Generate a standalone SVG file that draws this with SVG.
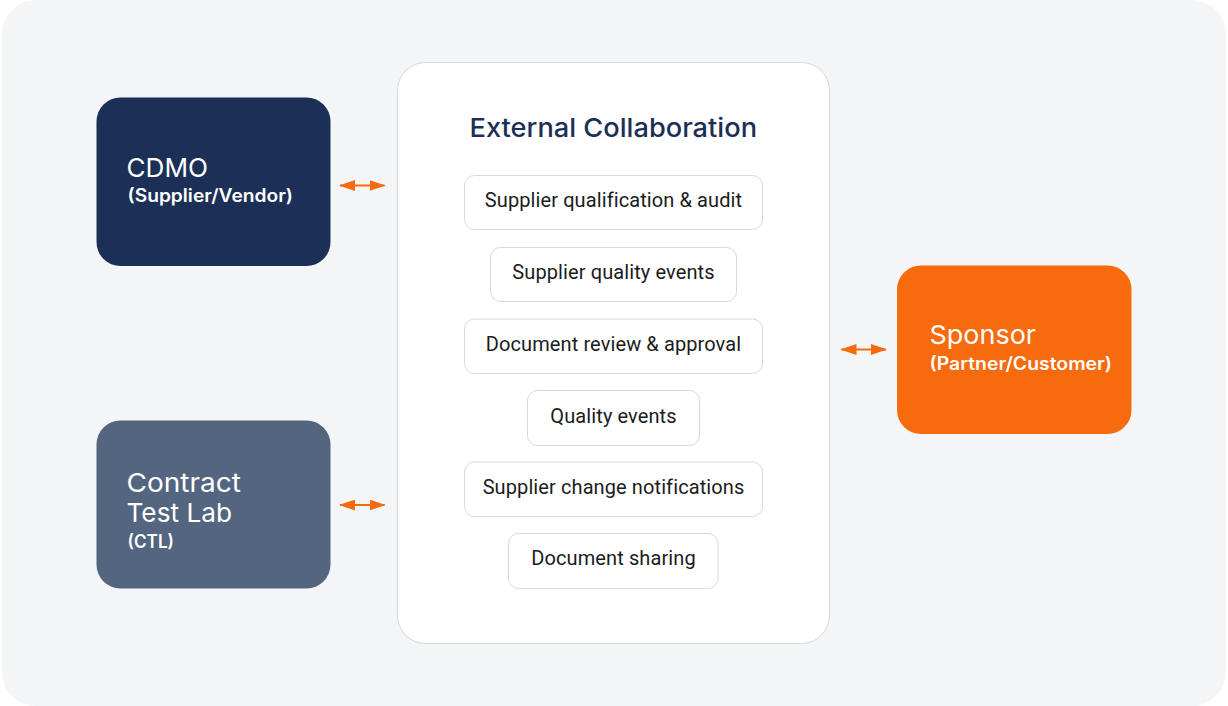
<svg xmlns="http://www.w3.org/2000/svg" width="1228" height="706" viewBox="0 0 1228 706">
<style>
.h{font-family:Inter,"Liberation Sans",sans-serif;font-weight:400;fill:#fff;font-size:26px}
.s{font-family:Inter,"Liberation Sans",sans-serif;font-weight:600;fill:#fff;font-size:18px}
.t{font-family:Inter,"Liberation Sans",sans-serif;font-weight:500;fill:#1c2f57;font-size:26px}
.i{font-family:Roboto,"Liberation Sans",sans-serif;font-size:20px;fill:#1a1c20;text-anchor:middle;letter-spacing:.1px}
.b{fill:#fff;stroke:#d5d8e0;stroke-width:1}
.c{stroke:#f76a0d;stroke-width:2;fill:none;marker-start:url(#a);marker-end:url(#a)}
</style>
<defs><marker id="a" viewBox="0 0 16 11" refX="15" refY="5.500" markerWidth="16" markerHeight="11" markerUnits="userSpaceOnUse" orient="auto-start-reverse"><path d="M0 0L16 5.500L0 11Z" fill="#f76a0d"/></marker></defs>
<rect x="2" y="0" width="1224" height="706" rx="34" fill="#f4f5f7"/>
<g id="connectors">
<path class="c" d="M340 185.500H384.500"/>
<path class="c" d="M340 505H384.500"/>
<path class="c" d="M841.500 349.500H886"/>
</g>
<g id="cdmo"><rect x="96.500" y="97.500" width="234" height="168.500" rx="24" fill="#1c2f57"/>
<text class="h" x="126.500" y="177" textLength="81.500" lengthAdjust="spacingAndGlyphs">CDMO</text>
<text class="s" x="127.500" y="202" textLength="165.500" lengthAdjust="spacingAndGlyphs">(Supplier/Vendor)</text></g>
<g id="ctl"><rect x="96.500" y="420.500" width="234" height="168" rx="24" fill="#54657f"/>
<text class="h" x="126.500" y="492" textLength="114.500" lengthAdjust="spacingAndGlyphs">Contract</text>
<text class="h" x="126.500" y="522" textLength="105.500" lengthAdjust="spacingAndGlyphs">Test Lab</text>
<text class="s" x="127.500" y="548" textLength="46.500" lengthAdjust="spacingAndGlyphs">(CTL)</text></g>
<g id="sponsor"><rect x="897" y="265.500" width="234.500" height="168.500" rx="24" fill="#f76a0d"/>
<text class="h" x="929.500" y="344" textLength="106.500" lengthAdjust="spacingAndGlyphs">Sponsor</text>
<text class="s" x="929.500" y="370" textLength="182.500" lengthAdjust="spacingAndGlyphs">(Partner/Customer)</text></g>
<g id="external-collaboration"><rect class="b" x="397.500" y="62.500" width="432" height="581" rx="28"/>
<text class="t" x="469.500" y="137" textLength="287.500" lengthAdjust="spacingAndGlyphs">External Collaboration</text></g>
<g id="item-1"><rect class="b" x="464.500" y="175.500" width="298" height="54" rx="10"/><text class="i" x="613.500" y="207">Supplier qualification &amp; audit</text></g>
<g id="item-2"><rect class="b" x="490.500" y="247.500" width="246" height="54" rx="10"/><text class="i" x="613.500" y="279">Supplier quality events</text></g>
<g id="item-3"><rect class="b" x="464.500" y="319" width="298" height="54.500" rx="10"/><text class="i" x="613.500" y="351">Document review &amp; approval</text></g>
<g id="item-4"><rect class="b" x="527.500" y="390.500" width="172" height="55" rx="10"/><text class="i" x="613.500" y="423">Quality events</text></g>
<g id="item-5"><rect class="b" x="464.500" y="462" width="298" height="54.500" rx="10"/><text class="i" x="613.500" y="494">Supplier change notifications</text></g>
<g id="item-6"><rect class="b" x="508.500" y="533.500" width="209.500" height="55" rx="10"/><text class="i" x="613.500" y="565">Document sharing</text></g>
</svg>
